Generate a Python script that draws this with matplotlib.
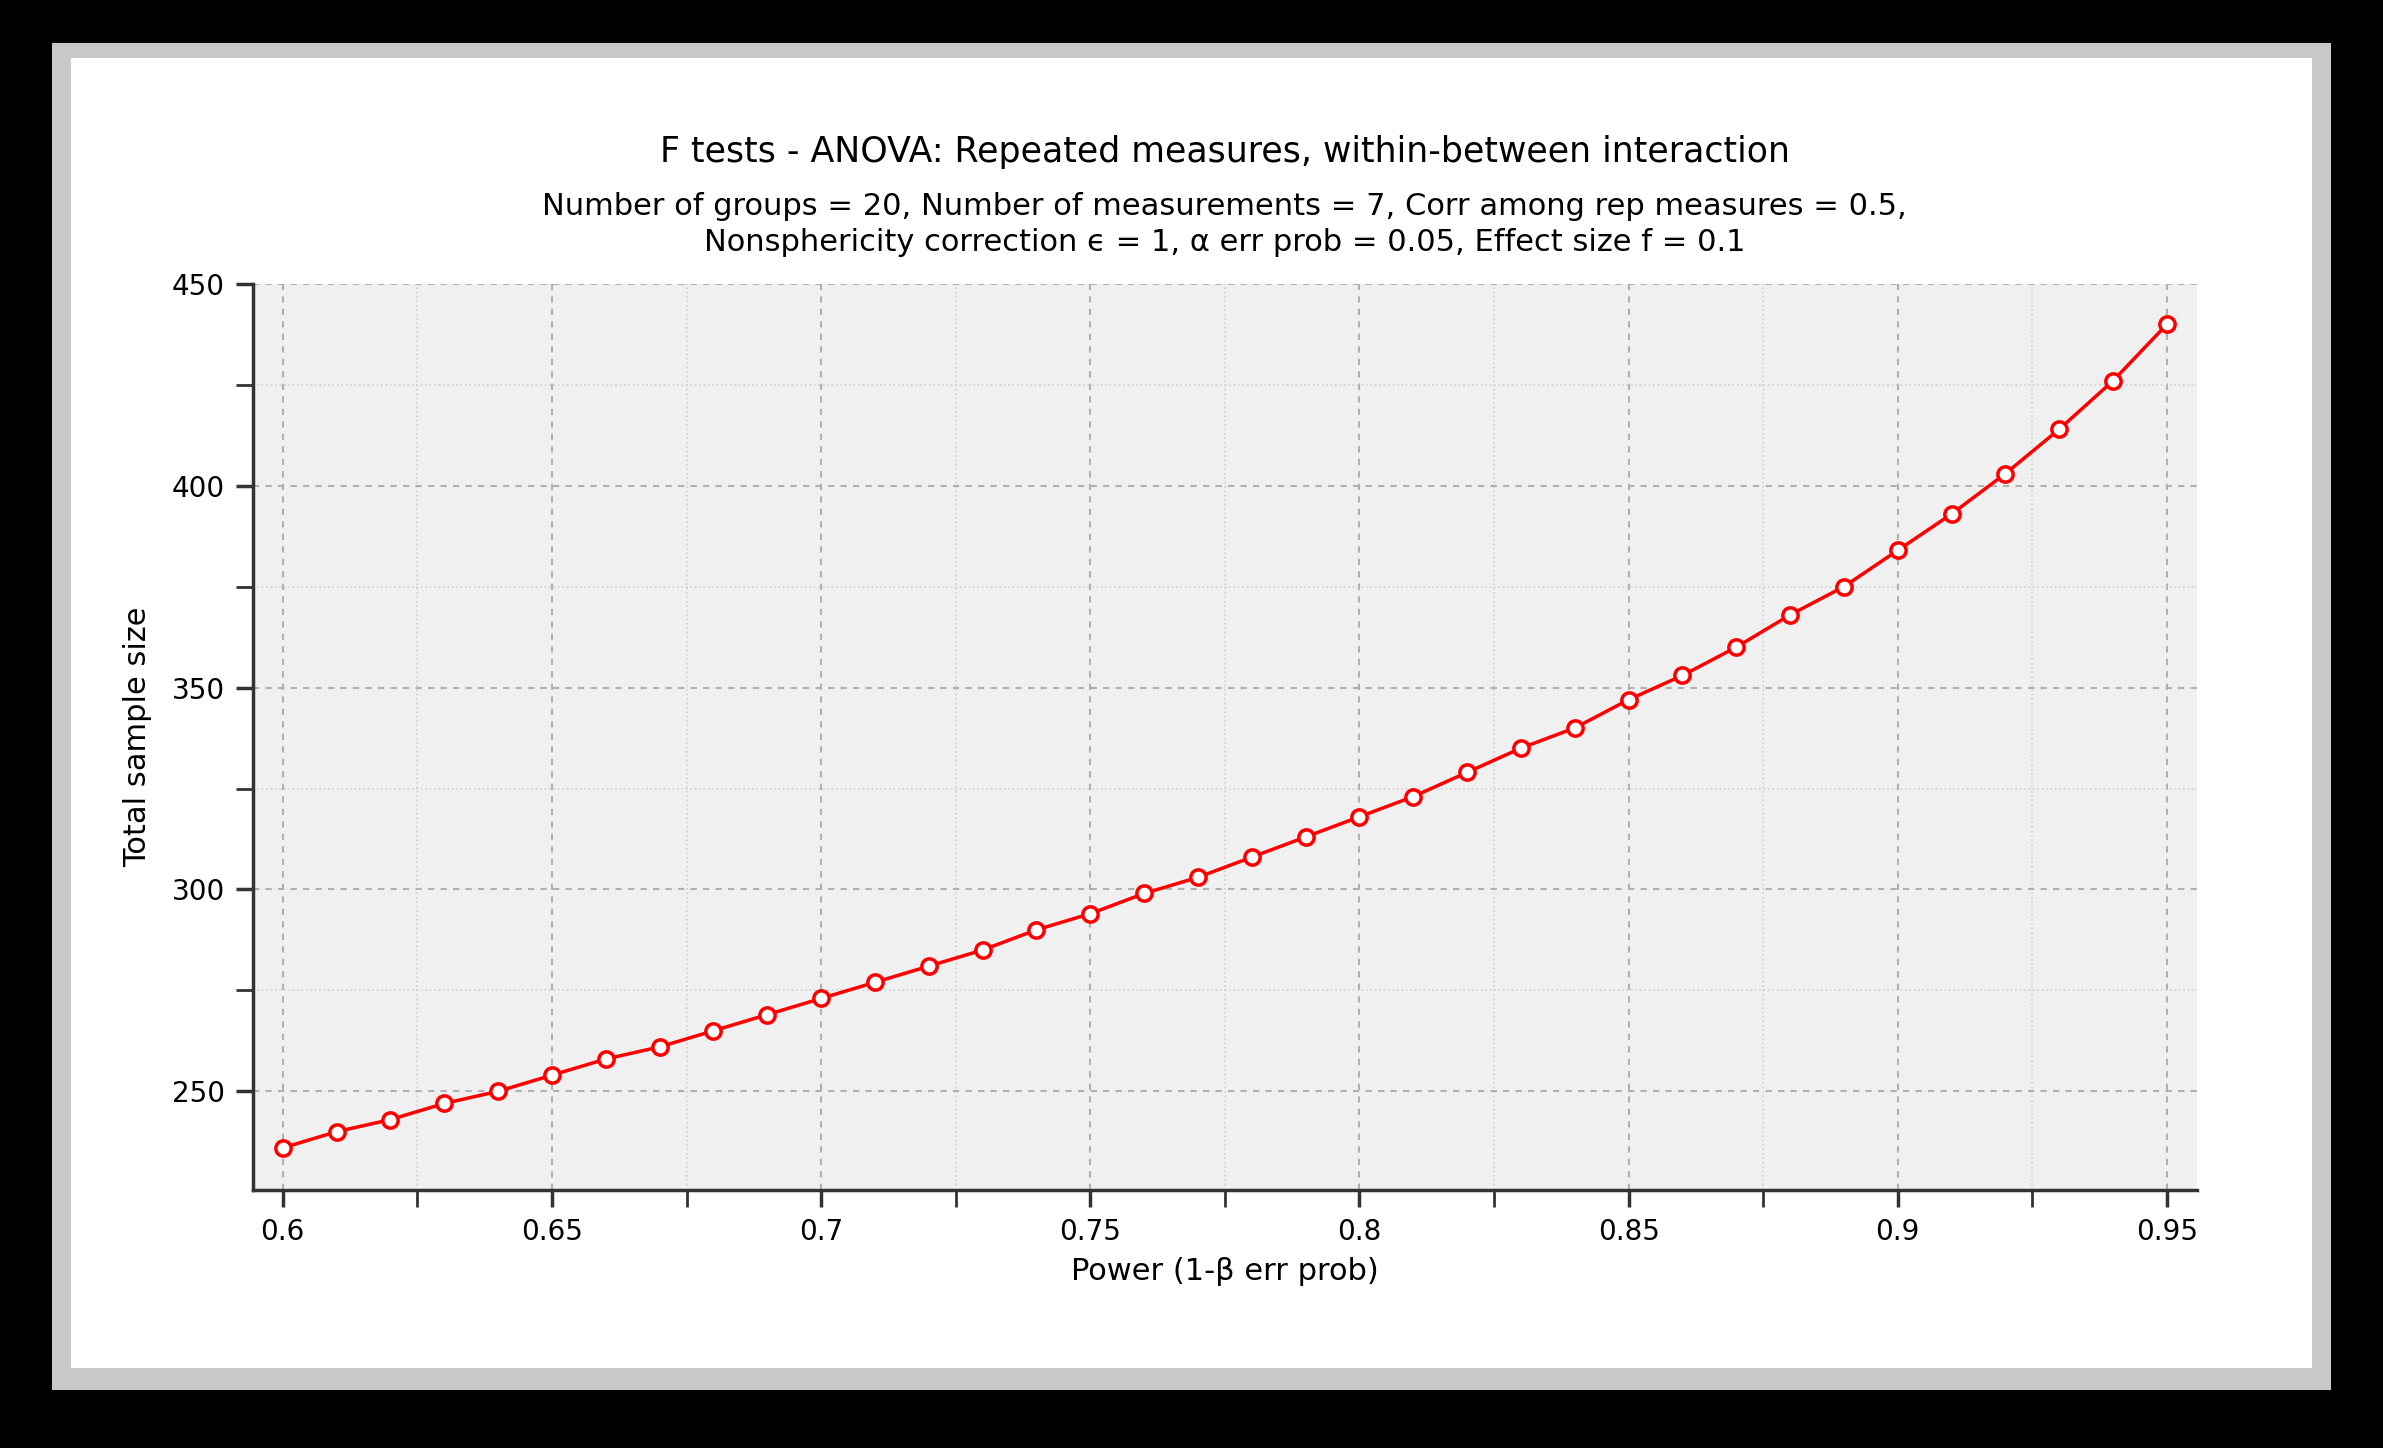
import matplotlib
matplotlib.use("Agg")
import matplotlib.pyplot as plt
from matplotlib.patches import Rectangle
from matplotlib.ticker import MultipleLocator, FormatStrFormatter

power = [0.60,0.61,0.62,0.63,0.64,0.65,0.66,0.67,0.68,0.69,0.70,0.71,0.72,0.73,0.74,0.75,
         0.76,0.77,0.78,0.79,0.80,0.81,0.82,0.83,0.84,0.85,0.86,0.87,0.88,0.89,0.90,0.91,
         0.92,0.93,0.94,0.95]
sample = [236,240,243,247,250,254,258,261,265,269,273,277,281,285,290,294,
          299,303,308,313,318,323,329,335,340,347,353,360,368,375,384,393,
          403,414,426,440]

W, H = 2383, 1448
fig = plt.figure(figsize=(W/100, H/100), dpi=100, facecolor="black")
fig.patches.append(Rectangle((0.022, 0.04), 0.956, 0.93, transform=fig.transFigure,
                             facecolor="#c8c8c8", edgecolor="none", zorder=-2))
fig.patches.append(Rectangle((0.03, 0.055), 0.94, 0.905, transform=fig.transFigure,
                             facecolor="white", edgecolor="none", zorder=-1))

ax = fig.add_axes([0.106, 0.178, 0.816, 0.626])
ax.set_zorder(5)
ax.set_facecolor("#f0f0f0")
ax.plot(power, sample, color="red", lw=2.5, marker="o", ms=11, mfc="white",
        mec="red", mew=2.5, zorder=3)
ax.set_xlim(0.5944, 0.9556)
ax.set_ylim(225.5, 450)
ax.xaxis.set_major_locator(MultipleLocator(0.05))
ax.xaxis.set_minor_locator(MultipleLocator(0.025))
ax.yaxis.set_major_locator(MultipleLocator(50))
ax.yaxis.set_minor_locator(MultipleLocator(25))
ax.xaxis.set_major_formatter(FormatStrFormatter("%g"))
ax.grid(which="major", color="#b0b0b0", ls=(0, (3, 3)), lw=1.5)
ax.grid(which="minor", color="#d0d0d0", ls=":", lw=1.2)
for s in ["top", "right"]:
    ax.spines[s].set_visible(False)
for s in ["left", "bottom"]:
    ax.spines[s].set_linewidth(2.5)
    ax.spines[s].set_color("#333333")
ax.tick_params(which="major", length=12, width=2.5, labelsize=20, color="#333333", pad=8)
ax.tick_params(which="minor", length=12, width=2, color="#333333")
ax.set_xlabel("Power (1-β err prob)", fontsize=22, labelpad=8)
ax.set_ylabel("Total sample size", fontsize=22, labelpad=14)

fig.text(0.514, 0.895, "F tests - ANOVA: Repeated measures, within-between interaction",
         ha="center", va="center", fontsize=25, zorder=6)
fig.text(0.514, 0.845, "Number of groups = 20, Number of measurements = 7, Corr among rep measures = 0.5,\n"
         "Nonsphericity correction ϵ = 1, α err prob = 0.05, Effect size f = 0.1",
         ha="center", va="center", fontsize=22, linespacing=1.3, zorder=6)
fig.savefig("out.png", dpi=100, facecolor="black")
